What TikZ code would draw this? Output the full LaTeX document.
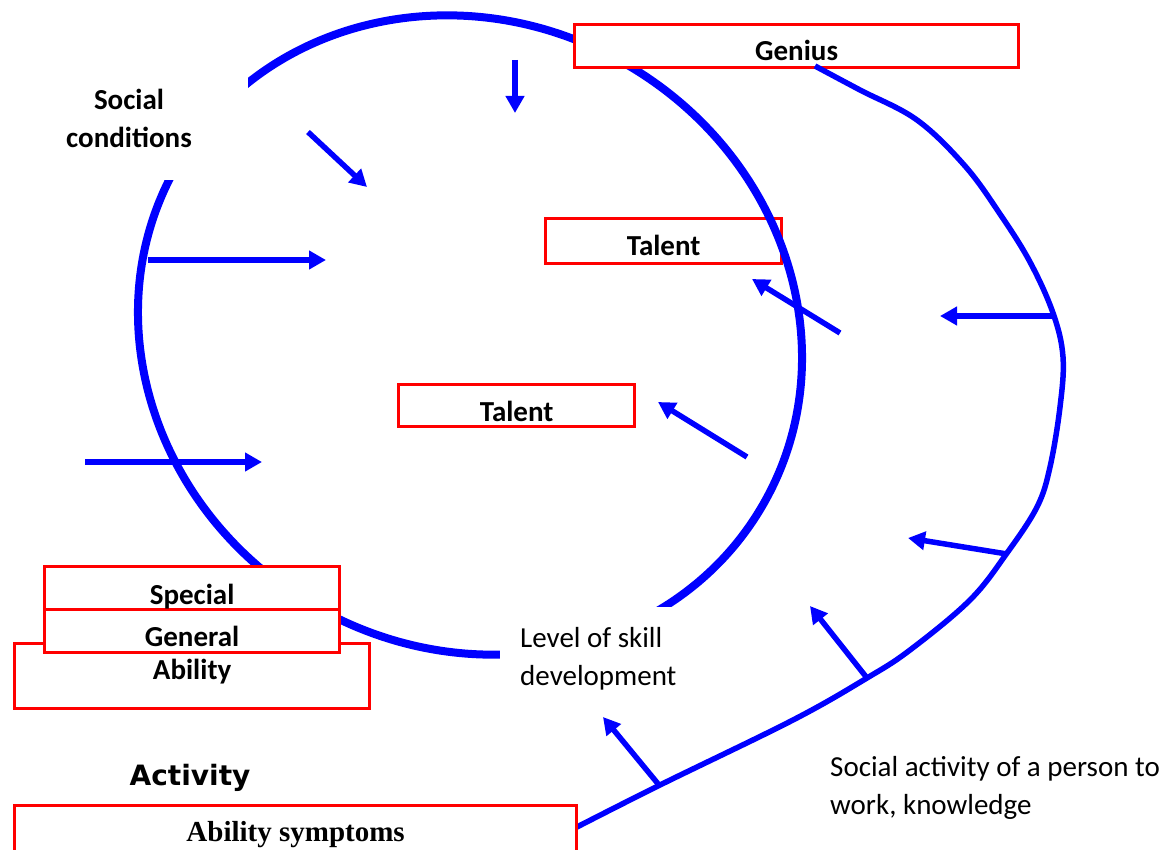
\documentclass[tikz,border=0pt]{standalone}
\usepackage{fontspec}
\setmainfont{Carlito}
\newfontfamily\actfont{DejaVu Sans}
\newfontfamily\serfont{Liberation Serif}
\usetikzlibrary{arrows.meta}
\definecolor{pblue}{RGB}{0,0,255}
\definecolor{pred}{RGB}{255,0,0}
\newcommand\myreg{\fontsize{29}{38}\selectfont}
\newcommand\mybld{\fontsize{29}{38}\selectfont\bfseries}
\begin{document}
\begin{tikzpicture}[x=1pt,y=-1pt,
  box/.style={draw=pred, line width=3.2pt, fill=white, inner xsep=0pt, inner ysep=0pt, font=\mybld, anchor=north west},
  cover/.style={fill=white, inner sep=0pt},
  ring/.style={draw=pblue, line width=8pt},
  link/.style={draw=pblue, line width=5.5pt},
  push/.style={draw=pblue, line width=5.5pt, -{Triangle[length=17pt,width=18pt]}},
]
\useasboundingbox (0,0) rectangle (1169,850);
\clip (0,0) rectangle (1169,850);

% upper talent box lies under the ring
\node[box, minimum width=236pt, text height=37pt, text depth=8pt] (talentA) at (544,217) {Talent};

% the ring
\draw[ring, rotate around={-30.8:(470,335)}] (470,335) ellipse [x radius=338.6pt, y radius=312.6pt];

% text boxes that cut the ring
\node[cover, font=\mybld, align=center, minimum width=238pt, minimum height=123pt] (social) at (129,118.5) {Social\\conditions};
\node[cover, font=\myreg, align=left, anchor=north west, inner xsep=20pt, inner ysep=20pt] (level) at (500,607) {Level of skill\\development};

% red boxes
\node[box, minimum width=444pt, text height=36pt, text depth=7pt] (genius) at (573,23) {Genius};
\node[box, minimum width=236pt, text height=37pt, text depth=5pt] (talentB) at (397,383) {Talent};
\node[box, minimum width=355pt, text height=36pt, text depth=29pt] (ability) at (13,642) {Ability};
\node[box, minimum width=295pt, text height=37pt, text depth=6pt] (general) at (43,608) {General};
\node[box, minimum width=295pt, text height=38pt, text depth=5pt] (special) at (43,565) {Special};

% arrows inside the ring
\draw[push] (515,60) -- (515,113);
\draw[push] (308,132) -- (367,187);
\draw[push] (148,260) -- (326,260);
\draw[push] (85,462) -- (262,462);
\draw[push] (840,333) -- (752,279);
\draw[push] (747,457) -- (658,402);

% activity curve from ability symptoms to genius
\draw[link] plot[smooth, tension=0.6] coordinates {(575,828) (660,785) (793,720) (867,678) (910,650) (970,600) (1007,553) (1037,507) (1050,467) (1060,407) (1063,357) (1053,313) (1030,262) (1000,214) (965,166) (917,120) (860,90) (815,66)};

% arrows from the curve
\draw[push] (1056,316) -- (940,316);
\draw[push] (1007,554) -- (908,538);
\draw[push] (867,678) -- (810,606);
\draw[push] (659,785) -- (603,717);

% bottom
\node[box, minimum width=562pt, text height=36pt, text depth=50pt, font=\serfont\bfseries\fontsize{29}{36}\selectfont] (symptoms) at (13,804) {Ability symptoms};
\node[font=\actfont\bfseries\fontsize{28}{34}\selectfont, anchor=base, inner sep=0pt] (activity) at (190,785) {Activity};
\node[font=\myreg, align=left, anchor=north west, inner sep=0pt] (socact) at (830,756) {Social activity of a person to\\work, knowledge};
\end{tikzpicture}
\end{document}
